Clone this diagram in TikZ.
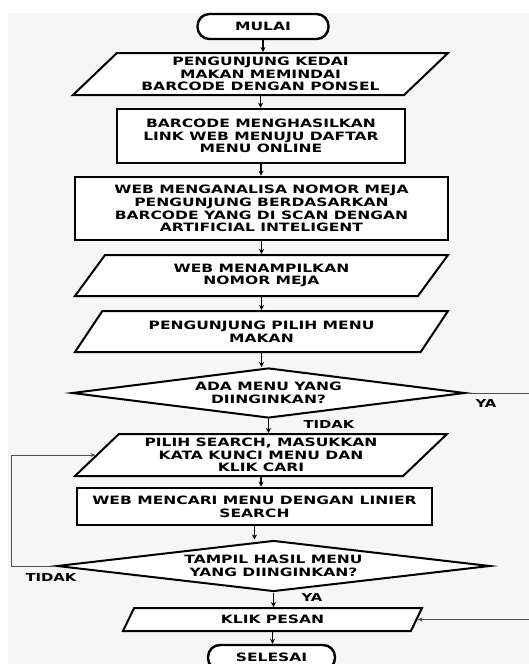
\documentclass[tikz,border=0pt]{standalone}
\usepackage{fontspec}
\newfontfamily\flowfont{DejaVu Sans}[FakeStretch=1.35]
\usetikzlibrary{shapes.geometric}
\usetikzlibrary{arrows.meta}
\definecolor{pagegray}{HTML}{F6F6F6}
\definecolor{loopgray}{HTML}{505050}
\tikzset{flow/.style={font=\flowfont\bfseries\fontsize{11.5}{12.8}\selectfont, align=center, inner sep=0pt}}
\tikzset{terminal/.style={flow, rectangle, rounded corners=12pt, draw, line width=2.4pt, fill=white}}
\tikzset{process/.style={flow, rectangle, draw, line width=2.6pt, fill=white}}
\tikzset{io/.style={flow, trapezium, trapezium left angle=38, trapezium right angle=142,
   trapezium stretches body, draw, line width=2pt, fill=white}}
\tikzset{decision/.style={flow, diamond, aspect=7.8, draw, line width=2pt, fill=white}}
\tikzset{flowarrow/.style={line width=1.4pt, -{Stealth[length=5pt,width=5pt]}}}
\tikzset{looparrow/.style={line width=0.9pt, draw=loopgray, -{Stealth[length=5pt,width=4pt]}}}
\tikzset{answer/.style={font=\flowfont\bfseries\fontsize{11}{12.8}\selectfont, inner sep=0pt}}
\begin{document}
\begin{tikzpicture}[x=1pt, y=-1pt]

    \useasboundingbox (0,0) rectangle (529,664);
    \fill[pagegray] (8,13) rectangle (529,664);

    \node[terminal, minimum width=131, minimum height=25] (mulai) at (263,26.5) {MULAI};
    \node[io, minimum width=375, minimum height=42] (p1) at (260.5,74)
        {PENGUNJUNG KEDAI\\MAKAN MEMINDAI\\BARCODE DENGAN PONSEL};
    \node[process, minimum width=288, minimum height=54] (b2) at (261,136)
        {BARCODE MENGHASILKAN\\LINK WEB MENUJU DAFTAR\\MENU ONLINE};
    \node[process, minimum width=373, minimum height=63] (b3) at (261.5,208.5)
        {WEB MENGANALISA NOMOR MEJA\\PENGUNJUNG BERDASARKAN\\BARCODE YANG DI SCAN DENGAN\\ARTIFICIAL INTELIGENT};
    \node[io, minimum width=373, minimum height=41] (p4) at (261.5,275.5)
        {WEB MENAMPILKAN\\NOMOR MEJA};
    \node[io, minimum width=373, minimum height=41] (p5) at (261.5,331.5)
        {PENGUNJUNG PILIH MENU\\MAKAN};
    \node[decision, minimum width=393, minimum height=50] (d1) at (268.5,393)
        {ADA MENU YANG\\DIINGINKAN?};
    \node[io, minimum width=372, minimum height=42] (p6) at (261,455)
        {PILIH SEARCH, MASUKKAN\\KATA KUNCI MENU DAN\\KLIK CARI};
    \node[process, minimum width=355, minimum height=37] (b7) at (254.5,506.5)
        {WEB MENCARI MENU DENGAN LINIER\\SEARCH};
    \node[decision, minimum width=433, minimum height=51] (d2) at (273.5,566)
        {TAMPIL HASIL MENU\\YANG DIINGINKAN?};
    \node[io, minimum width=299, minimum height=23] (p8) at (272.5,619.5) {KLIK PESAN};
    \node[terminal, minimum width=127, minimum height=25] (selesai) at (271.5,657.5) {SELESAI};

    \node[answer] (ya1) at (486,403) {YA};
    \node[answer] (tidak1) at (329,424) {TIDAK};
    \node[answer] (tidak2) at (51,577) {TIDAK};
    \node[answer] (ya2) at (312,597) {YA};

    \draw[flowarrow] (mulai.south) -- (mulai.south |- p1.north);
    \draw[flowarrow] (p1.south) -- (p1.south |- b2.north);
    \draw[flowarrow] (b2.south) -- (b2.south |- b3.north);
    \draw[flowarrow] (b3.south) -- (b3.south |- p4.north);
    \draw[flowarrow] (p4.south) -- (p4.south |- p5.north);
    \draw[flowarrow] (p5.south) -- (p5.south |- d1.north);
    \draw[flowarrow] (d1.south) -- (d1.south |- p6.north);
    \draw[flowarrow] (p6.south) -- (p6.south |- b7.north);
    \draw[flowarrow] (b7.south) -- (b7.south |- d2.north);
    \draw[flowarrow] (d2.south) -- (d2.south |- p8.north);
    \draw[flowarrow] (p8.south) -- (p8.south |- selesai.north);

    \coordinate (lbend) at (11,566);
    \coordinate (rbend) at (531,393);
    \draw[looparrow] (d2.west) -- (lbend) |- (p6);
    \draw[looparrow] (d1.east) -- (rbend) |- (p8);

\end{tikzpicture}
\end{document}
